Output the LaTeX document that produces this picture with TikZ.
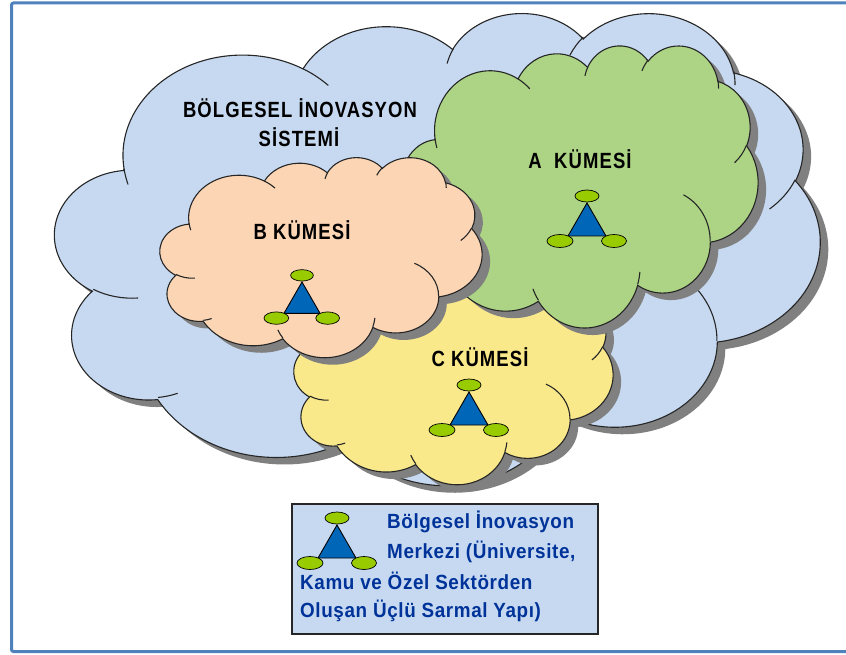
\documentclass[tikz,border=0pt]{standalone}
\usepackage{fontspec}
\newfontfamily\labelfont[FakeStretch=.84,BoldFont={Liberation Sans Bold},BoldFeatures={FakeStretch=.84,LetterSpace=5}]{Liberation Sans}
\newfontfamily\legendfont[BoldFont={Liberation Sans Bold},BoldFeatures={FakeStretch=.92,LetterSpace=3}]{Liberation Sans}

\definecolor{framecol}{HTML}{4F81BD}
\definecolor{cloudblue}{HTML}{C6D9F1}
\definecolor{cloudorange}{HTML}{FCD5B5}
\definecolor{cloudgreen}{HTML}{ACD484}
\definecolor{cloudyellow}{HTML}{FAE98A}
\definecolor{triblue}{HTML}{0066B8}
\definecolor{dotgreen}{HTML}{99CC00}
\definecolor{legendtext}{HTML}{003399}

\tikzset{
  cloudline/.style={draw=black!85,line width=1.1pt},
  cloudshadow/.style={fill=black!50,draw=none},
  clusterlabel/.style={font=\labelfont\bfseries\fontsize{22}{24}\selectfont,text=black,inner sep=0pt},
  legendlabel/.style={font=\legendfont\bfseries\fontsize{20.5}{24}\selectfont,text=legendtext,inner sep=0pt,anchor=west},
}

% outline of the cloud, box is 43.2 x 43.2
\newcommand{\cloudpath}{(3.9,14.37)
  arc (-187.74:-59.64:6.753pt and 9.19pt)
  arc (-152.02:-45.45:5.333pt and 7.267pt)
  arc (-153.49:-37.34:4.365pt and 5.945pt)
  arc (-139.69:-10.22:4.857pt and 6.595pt)
  arc (-74.77:23.21:5.333pt and 7.273pt)
  arc (-37.53:81.86:6.775pt and 9.22pt)
  arc (.46:121.97:5.785pt and 7.867pt)
  arc (16.85:146.24:6.752pt and 9.215pt)
  arc (58.97:150.18:7.72pt and 10.543pt)
  arc (-276.69:-136.88:4.36pt and 5.918pt)
  arc (-239.65:-95.89:4.345pt and 5.945pt) -- cycle}
% small inner strokes
\newcommand{\cloudcuts}{
  (4.693,26.177) arc (85.54:120.35:4.345pt and 5.945pt)
  (6.928,34.899) arc (68.24:83.31:4.36pt and 5.918pt)
  (16.478,39.09) arc (146.24:158.47:6.752pt and 9.215pt)
  (28.827,34.751) arc (4.74:16.85:6.752pt and 9.215pt)
  (34.129,22.954) arc (-64.02:.46:5.785pt and 7.867pt)
  (41.798,15.354) arc (23.21:49.66:5.333pt and 7.273pt)
  (38.324,5.426) arc (-10.22:.82:4.857pt and 6.595pt)
  (29.078,3.952) arc (-156.75:-139.69:4.857pt and 6.595pt)
  (22.141,4.72) arc (-167.33:-153.49:4.365pt and 5.945pt)
  (14,5.192) arc (-59.64:-44.13:6.753pt and 9.19pt)
  (4.127,15.789) arc (-196.8:-187.74:6.753pt and 9.19pt)}

% left, top, width, height, colour
\newcommand{\cloudblob}[5]{%
  \begin{scope}[shift={(#1+8,#2+7)},y=1pt,xscale=#3/43.2,yscale=-#4/43.2]
    \path[cloudshadow] \cloudpath;
  \end{scope}
  \begin{scope}[shift={(#1,#2)},y=1pt,xscale=#3/43.2,yscale=-#4/43.2]
    \path[cloudline,fill=#5] \cloudpath;
    \path[cloudline] \cloudcuts;
  \end{scope}
}

% apex x, apex y, scale
\newcommand{\triad}[3]{%
  \begin{scope}[shift={(#1,#2)},scale=#3]
    \filldraw[fill=triblue,draw=black,line width=.9pt] (0,0) -- (19,33) -- (-19,33) -- cycle;
    \filldraw[fill=dotgreen,draw=black,line width=.7pt] (0,-7) ellipse (12pt and 6pt);
    \filldraw[fill=dotgreen,draw=black,line width=.7pt] (-27,38) ellipse (13pt and 6.5pt);
    \filldraw[fill=dotgreen,draw=black,line width=.7pt] (27,38) ellipse (12.5pt and 6.5pt);
  \end{scope}
}

\begin{document}
\begin{tikzpicture}[x=1pt,y=-1pt]

\useasboundingbox (0,0) rectangle (846,655);

\draw[framecol,line width=3pt,rounded corners=2pt] (846,3) -- (11.5,3) -- (11.5,651.5) -- (846,651.5);

\cloudblob{55}{12}{765}{472}{cloudblue}
\cloudblob{294}{271}{319}{213}{cloudyellow}
\cloudblob{403}{45}{355}{282}{cloudgreen}
\cloudblob{160}{157}{322}{200}{cloudorange}

\node[clusterlabel] (sistem1) at (300,108) {BÖLGESEL İNOVASYON};
\node[clusterlabel] (sistem2) at (299,137) {SİSTEMİ};
\node[clusterlabel] (kumeb) at (302,230) {B KÜMESİ};
\node[clusterlabel] (kumea) at (580,159) {A\ \ KÜMESİ};
\node[clusterlabel] (kumec) at (480,357) {C KÜMESİ};

\triad{302}{282}{.95}
\triad{587}{203}{1}
\triad{469}{392}{1}

% legend
\draw[fill=cloudblue,draw=black!85,line width=1.2pt] (292,504) rectangle (598,634);
\triad{337}{525}{1}
\node[legendlabel] (leg1) at (387,522) {Bölgesel İnovasyon};
\node[legendlabel] (leg2) at (387,552) {Merkezi (Üniversite,};
\node[legendlabel] (leg3) at (300,581) {Kamu ve Özel Sektörden};
\node[legendlabel] (leg4) at (300,611) {Oluşan Üçlü Sarmal Yapı)};

\end{tikzpicture}
\end{document}
